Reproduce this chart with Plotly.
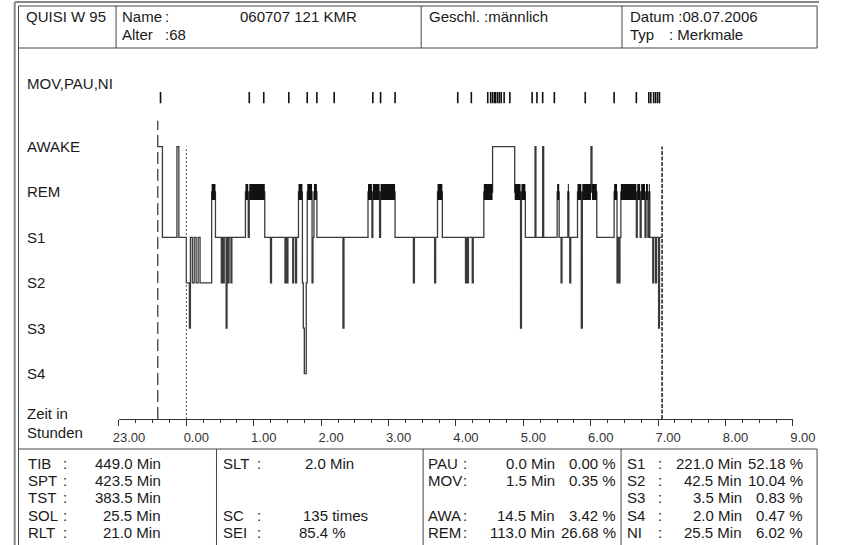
import plotly.graph_objects as go

W, H = 842, 545

# ---------------- data ----------------
# time axis: minutes after 23:00
tick_minutes = [0, 60, 120, 180, 240, 300, 360, 420, 480, 540, 600]
tick_labels = ["23.00", "0.00", "1.00", "2.00", "3.00", "4.00", "5.00", "6.00", "7.00", "8.00", "9.00"]

stage_order = ["S4", "S3", "S2", "S1", "REM", "AWAKE"]
stage_code_level = {"4": 0, "3": 1, "2": 2, "1": 3, "R": 4, "W": 5}

lights_off_min = 34.5
sleep_onset_min = 60.0
lights_on_min = 483.5

# hypnogram: start minute of each stage bout and its stage
bout_start = [34.5, 38.7, 51.6, 53.3, 60.0, 62.7, 63.6, 65.3, 67.0, 68.7, 70.5, 72.2, 82.5, 85.9,
              91.1, 91.9, 92.8, 93.7, 95.4, 96.2, 97.1, 98.0, 99.7, 100.5, 112.6, 115.1, 116.0,
              129.8, 134.9, 135.8, 147.8, 148.7, 149.5, 150.4, 154.7, 155.5, 157.3, 158.1, 159.8,
              163.3, 164.1, 165.0, 166.7, 167.6, 171.9, 172.7, 173.6, 176.2, 199.4, 200.3, 221.7,
              225.2, 226.0, 232.0, 232.9, 245.8, 262.1, 263.0, 281.0, 281.9, 283.6, 287.9, 308.5,
              309.4, 310.2, 311.1, 314.5, 315.4, 324.8, 332.6, 352.3, 357.5, 358.3, 361.8, 370.4,
              371.2, 377.2, 378.1, 390.1, 391.9, 393.6, 394.4, 399.6, 400.5, 401.3, 402.2, 408.2,
              411.6, 412.5, 420.2, 421.1, 425.4, 440.8, 443.4, 444.2, 445.1, 446.0, 446.8, 460.6,
              461.4, 464.0, 464.9, 468.3, 469.2, 470.9, 471.7, 472.6, 475.2, 476.0, 477.7, 478.6,
              480.4, 481.2]
bout_stage = ["W", "1", "W", "1", "2", "3", "1", "2", "1", "2", "1", "2", "R", "1",
              "2", "1", "2", "1", "3", "1", "2", "1", "2", "1", "R", "1", "R",
              "1", "2", "1", "2", "1", "2", "1", "2", "1", "2", "1", "R",
              "2", "3", "4", "2", "R", "2", "1", "R", "1", "3", "1", "R",
              "1", "R", "1", "R", "1", "2", "1", "2", "1", "R", "1", "2",
              "1", "2", "1", "2", "1", "R", "W", "R", "3", "R", "1", "W",
              "1", "W", "1", "R", "1", "2", "1", "R", "1", "2", "1", "R",
              "3", "R", "W", "R", "1", "R", "2", "1", "2", "1", "R", "1",
              "R", "1", "R", "1", "R", "1", "R", "1", "2", "1", "2", "1",
              "3", "1"]

# MOV / PAU / NI event markers (minutes after 23:00)
event_min = [37.0, 116.0, 128.9, 151.2, 167.6, 176.2, 191.6, 226.0, 232.9, 245.8,
             301.6, 313.7, 328.3, 330.9, 332.6, 334.3, 335.1, 336.9, 338.6, 340.3, 342.9, 348.0,
             367.8, 372.1, 377.2, 387.6, 415.1, 440.8, 460.6,
             471.7, 473.5, 476.0, 477.7, 479.5, 481.2]

header_row1 = ["QUISI W 95", "Name", ":", "060707 121 KMR", "Geschl. :männlich", "Datum :08.07.2006"]
header_row2 = ["Alter", ":68", "Typ", ": Merkmale"]

col1_labels = ["TIB", "SPT", "TST", "SOL", "RLT"]
col1_values = ["449.0 Min", "423.5 Min", "383.5 Min", "25.5 Min", "21.0 Min"]
col2_labels = ["SLT", "", "", "SC", "SEI"]
col2_values = ["2.0 Min", "", "", "135 times", ""]
col2_sei = "85.4 %"
col3_labels = ["PAU", "MOV", "", "AWA", "REM"]
col3_values = ["0.0 Min", "1.5 Min", "", "14.5 Min", "113.0 Min"]
col3_pct = ["0.00 %", "0.35 %", "", "3.42 %", "26.68 %"]
col4_labels = ["S1", "S2", "S3", "S4", "NI"]
col4_values = ["221.0 Min", "42.5 Min", "3.5 Min", "2.0 Min", "25.5 Min"]
col4_pct = ["52.18 %", "10.04 %", "0.83 %", "0.47 %", "6.02 %"]

# ---------------- figure ----------------
FONT = "Liberation Sans, Arial, sans-serif"
TXT = "#1a1a1a"
FS = 15


def px(x):
    return x / W


def py(y):
    return 1 - y / H


# y axis mapping: level 0 (S4) at 373px, 45.4 px per level
Y_BOTTOM_PX = 419.0
Y_MIN, Y_MAX = -1.0, 6.9
PX_PER_LEVEL = 45.4
y_top_px = Y_BOTTOM_PX - (Y_MAX - Y_MIN) * PX_PER_LEVEL
X_LEFT_PX, X_RIGHT_PX = 117.0, 815.0

fig = go.Figure()

# step hypnogram
xs, ys = [], []
for t, s in zip(bout_start, bout_stage):
    xs.append(t)
    ys.append(stage_code_level[s])
xs.append(lights_on_min)
ys.append(stage_code_level[bout_stage[-1]])
fig.add_trace(go.Scatter(x=xs, y=ys, mode="lines", line=dict(color="#3a3a3a", width=1.3, shape="hv"),
                         hoverinfo="skip", showlegend=False))

# REM blocks
rx, ry = [], []
ends = bout_start[1:] + [lights_on_min]
for t0, t1, s in zip(bout_start, ends, bout_stage):
    if s == "R":
        rx += [t0, t1, None]
        ry += [stage_code_level["R"], stage_code_level["R"], None]
fig.add_trace(go.Scatter(x=rx, y=ry, mode="lines", line=dict(color="#111111", width=16),
                         hoverinfo="skip", showlegend=False))

# marker lines
fig.add_trace(go.Scatter(x=[lights_off_min, lights_off_min], y=[Y_MIN, 5.57], mode="lines",
                         line=dict(color="#555555", width=1.5, dash="12px,5px"), showlegend=False, hoverinfo="skip"))
fig.add_trace(go.Scatter(x=[sleep_onset_min, sleep_onset_min], y=[Y_MIN, 5.0], mode="lines",
                         line=dict(color="#555555", width=1, dash="2px,2px"), showlegend=False, hoverinfo="skip"))
fig.add_trace(go.Scatter(x=[lights_on_min, lights_on_min], y=[Y_MIN, 5.0], mode="lines",
                         line=dict(color="#222222", width=1.5, dash="4px,1.5px"), showlegend=False, hoverinfo="skip"))

# events
fig.add_trace(go.Scatter(x=event_min, y=[6.08] * len(event_min), mode="markers",
                         marker=dict(symbol="line-ns", size=8, line=dict(color="#111111", width=1.6)),
                         showlegend=False, hoverinfo="skip"))

fig.update_layout(
    width=W, height=H, margin=dict(l=0, r=0, t=0, b=0),
    paper_bgcolor="white", plot_bgcolor="white",
    font=dict(family=FONT, size=FS, color=TXT),
    xaxis=dict(domain=[px(X_LEFT_PX), px(X_RIGHT_PX)], range=[0, 600], tickmode="array",
               tickvals=tick_minutes, ticktext=tick_labels, showgrid=False, zeroline=False,
               showline=True, linecolor="#333333", linewidth=1, ticks="outside", ticklen=6,
               tickcolor="#333333", tickwidth=1, ticklabelshift=10,
               tickfont=dict(family=FONT, size=13, color="#333333"),
               minor=dict(dtick=15, ticklen=3, ticks="outside", tickcolor="#333333", showgrid=False)),
    yaxis=dict(domain=[py(Y_BOTTOM_PX), py(y_top_px)], range=[Y_MIN, Y_MAX], visible=False),
)

shapes = []
LC = "#444444"


def hline(x0, x1, y, w=1, c=LC):
    shapes.append(dict(type="line", xref="paper", yref="paper", x0=px(x0), x1=px(x1), y0=py(y), y1=py(y),
                       line=dict(color=c, width=w)))


def vline(x, y0, y1, w=1, c=LC):
    shapes.append(dict(type="line", xref="paper", yref="paper", x0=px(x), x1=px(x), y0=py(y0), y1=py(y1),
                       line=dict(color=c, width=w)))


# outer frame
vline(9, 2, 545, 2, "#888888")
hline(9, 842, 2, 2, "#888888")
# header box
hline(13, 840, 6)
hline(13, 840, 48)
vline(13, 6, 545)
vline(840, 6, 48)
for x in [114, 430, 638]:
    vline(x, 6, 48)
# table box
hline(13, 840, 449)
for x in [218, 432, 637]:
    vline(x, 449, 545)
vline(840, 449, 545)

ann = []


def text(x, y, s, anchor="left", size=FS, yref="paper"):
    ann.append(dict(x=px(x), y=(py(y) if yref == "paper" else y), xref="paper", yref=yref, text=s,
                    showarrow=False, xanchor=anchor, yanchor="middle",
                    font=dict(family=FONT, size=size, color=TXT)))


# header
r1, r2 = 17, 34
text(19, r1, header_row1[0])
text(118, r1, header_row1[1])
text(163, r1, header_row1[2])
text(240, r1, header_row1[3])
text(436, r1, header_row1[4])
text(644, r1, header_row1[5])
text(118, r2, header_row2[0])
text(163, r2, header_row2[1])
text(644, r2, header_row2[2])
text(685, r2, header_row2[3])

# stage labels
text(20, 83, "MOV,PAU,NI")
for i, name in enumerate(stage_order):
    text(20, i, name, yref="y")
text(20, 413, "Zeit in")
text(20, 432, "Stunden")

# table
rows = [463, 480, 497.5, 515, 532]
for i, y in enumerate(rows):
    text(21, y, col1_labels[i])
    text(57, y, ":")
    text(163, y, col1_values[i], "right")
    if col2_labels[i]:
        text(223, y, col2_labels[i])
        text(258, y, ":")
    if col2_values[i]:
        text(377 if i == 3 else 363, y, col2_values[i], "right")
    if col3_labels[i]:
        text(435, y, col3_labels[i])
        text(471, y, ":")
        text(571, y, col3_values[i], "right")
        text(634, y, col3_pct[i], "right")
    text(641, y, col4_labels[i])
    text(673, y, ":")
    text(764, y, col4_values[i], "right")
    text(828, y, col4_pct[i], "right")
text(301, rows[4], col2_sei)

fig.update_layout(shapes=shapes, annotations=ann)
fig.write_html("out.html", config={"displayModeBar": False},
               post_script="document.body.style.margin='0';document.body.style.padding='0';")
